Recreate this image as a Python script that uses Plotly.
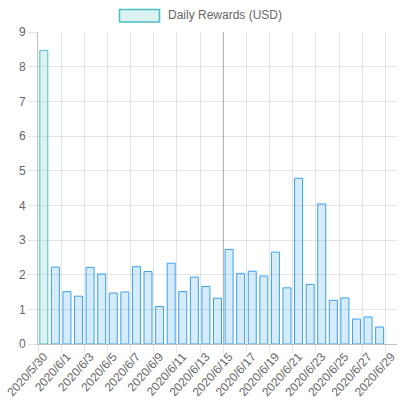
import plotly.graph_objects as go

dates = ["2020/5/30", "2020/5/31"] + [f"2020/6/{d}" for d in range(1, 30)]
rewards = [8.47, 2.22, 1.51, 1.38, 2.21, 2.02, 1.47, 1.50, 2.23, 2.09,
           1.08, 2.33, 1.51, 1.93, 1.66, 1.32, 2.73, 2.03, 2.10, 1.96,
           2.65, 1.62, 4.78, 1.72, 4.04, 1.26, 1.33, 0.72, 0.78, 0.49, None]
series_name = "Daily Rewards (USD)"
y_ticks = list(range(0, 10))

TEAL = "rgb(75,192,192)"
TEAL_FILL = "rgba(75,192,192,0.2)"
BLUE = "rgb(54,162,235)"
BLUE_FILL = "rgba(54,162,235,0.2)"
GRID = "rgba(0,0,0,0.1)"
AXIS = "rgba(0,0,0,0.25)"
FONT = "Liberation Sans, Arial, Helvetica, sans-serif"

fills = [TEAL_FILL] + [BLUE_FILL] * (len(dates) - 1)
lines = [TEAL] + [BLUE] * (len(dates) - 1)

fig = go.Figure()
fig.add_trace(go.Bar(
    x=dates, y=rewards, name=series_name,
    marker=dict(color=fills, line=dict(color=lines, width=1)),
    showlegend=False,
))

W, H = 400, 400
L, R, T, B = 38, 3, 32, 56
pw, ph = W - L - R, H - T - B


def px_x(p):
    return (p - L) / pw


def px_y(p):
    return 1 + (T - p) / ph


# legend box + label drawn like Chart.js legend
fig.add_shape(type="rect", xref="paper", yref="paper",
              x0=px_x(119.5), x1=px_x(159.5), y0=px_y(22), y1=px_y(9.5),
              fillcolor=TEAL_FILL, line=dict(color=TEAL, width=1.5))
fig.add_annotation(xref="paper", yref="paper", x=px_x(165.5), y=px_y(15.5),
                   text=series_name, showarrow=False, xanchor="left", yanchor="middle",
                   font=dict(family=FONT, size=12, color="#666"))

# darker vertical grid line at the 2020/6/15 boundary, as in the reference
mid = dates.index("2020/6/15") - 0.5
fig.add_shape(type="line", xref="x", yref="paper", x0=mid, x1=mid, y0=0, y1=1,
              line=dict(color=AXIS, width=1), layer="below")

fig.update_layout(
    width=W, height=H,
    margin=dict(l=L, r=R, t=T, b=B, autoexpand=False),
    paper_bgcolor="white", plot_bgcolor="white",
    bargap=0.31,
    font=dict(family=FONT, size=12, color="#666"),
)
fig.update_xaxes(
    type="category", tickson="boundaries", tickmode="linear", tick0=0, dtick=2,
    tickangle=-48, showgrid=True, gridcolor=GRID, gridwidth=1,
    showline=True, linecolor=AXIS, linewidth=1,
    ticks="outside", ticklen=8, tickcolor=GRID,
    tickfont=dict(family=FONT, size=12, color="#666"),
    range=[-0.5, len(dates) - 0.5], automargin=False,
)
fig.update_yaxes(
    range=[0, 9], tickmode="array", tickvals=y_ticks,
    showgrid=True, gridcolor=GRID, gridwidth=1,
    showline=True, linecolor=AXIS, linewidth=1, zeroline=False,
    ticks="outside", ticklen=9, tickcolor=GRID,
    tickfont=dict(family=FONT, size=12, color="#666"),
    automargin=False,
)

fig.write_html("out.html")
